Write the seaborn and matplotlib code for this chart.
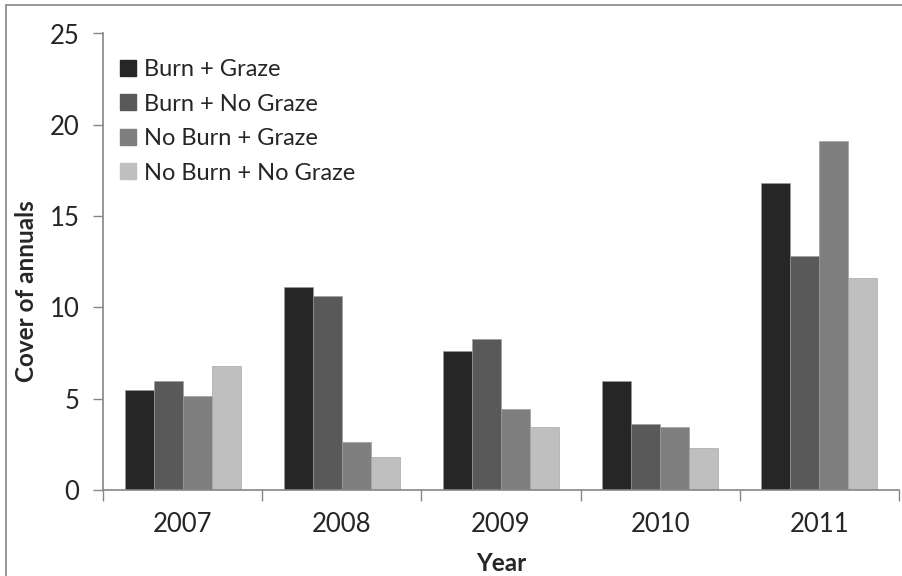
import matplotlib
matplotlib.use("Agg")
import matplotlib.pyplot as plt
from matplotlib.lines import Line2D
import seaborn as sns
import pandas as pd

years = ["2007", "2008", "2009", "2010", "2011"]
treatments = ["Burn + Graze", "Burn + No Graze", "No Burn + Graze", "No Burn + No Graze"]
burn_graze = [5.46, 11.13, 7.61, 5.97, 16.81]
burn_no_graze = [5.97, 10.64, 8.29, 3.61, 12.81]
no_burn_graze = [5.13, 2.63, 4.45, 3.47, 19.11]
no_burn_no_graze = [6.79, 1.79, 3.47, 2.30, 11.61]
colors = ["#262626", "#595959", "#7f7f7f", "#bfbfbf"]

series = [burn_graze, burn_no_graze, no_burn_graze, no_burn_no_graze]
df = pd.DataFrame(
    [(y, t, v) for t, vals in zip(treatments, series) for y, v in zip(years, vals)],
    columns=["Year", "Treatment", "Cover"],
)

sns.set_style("white")
plt.rcParams["font.family"] = ["Lato", "DejaVu Sans"]

fig = plt.figure(figsize=(9.02, 5.76), dpi=100)
ax = fig.add_axes([103 / 902, 86 / 576, 796 / 902, 456.5 / 576])

sns.barplot(
    data=df, x="Year", y="Cover", hue="Treatment",
    order=years, hue_order=treatments, palette=colors,
    width=0.729, gap=0, errorbar=None, ax=ax,
    edgecolor="#9a9a9a", linewidth=0.4,
)

ax.set_ylim(0, 25)
ax.set_xlim(-0.5, 4.5)
ax.set_yticks([0, 5, 10, 15, 20, 25])
ax.tick_params(axis="y", labelsize=18.5, length=7, width=1, color="#868686",
               direction="out", left=True, pad=10)

# tick marks between categories, labels at category centres
ax.set_xticks([i - 0.5 for i in range(len(years) + 1)])
ax.set_xticklabels([""] * (len(years) + 1))
ax.set_xticks(range(len(years)), minor=True)
ax.set_xticklabels(years, minor=True)
ax.tick_params(axis="x", which="major", length=8, width=1, color="#868686",
               direction="out", bottom=True)
ax.tick_params(axis="x", which="minor", length=0, labelsize=18.5, pad=16)

for side in ["top", "right"]:
    ax.spines[side].set_visible(False)
for side in ["left", "bottom"]:
    ax.spines[side].set_color("#868686")
    ax.spines[side].set_linewidth(1.2)

ax.set_xlabel("Year", fontsize=17.5, fontweight="bold")
ax.xaxis.set_label_coords(0.5, -0.16)
ax.xaxis.label.set_va("center")
ax.set_ylabel("Cover of annuals", fontsize=17.5, fontweight="bold")
ax.yaxis.set_label_coords(-0.0955, 0.435)
ax.yaxis.label.set_va("center")

handles = [Line2D([0], [0], marker="s", linestyle="none", markersize=11,
                  markerfacecolor=c, markeredgecolor=c) for c in colors]
ax.legend(handles, treatments, loc="upper left", bbox_to_anchor=(0.0, 0.98),
          frameon=False, fontsize=17, handlelength=0.7, handletextpad=0.35,
          labelspacing=0.57, borderaxespad=0.3)

# chart area border
fig.add_artist(Line2D([6 / 902, 6 / 902], [0, 1 - 5 / 576], transform=fig.transFigure,
                      color="#868686", linewidth=1.2))
fig.add_artist(Line2D([6 / 902, 1], [1 - 5 / 576, 1 - 5 / 576], transform=fig.transFigure,
                      color="#868686", linewidth=1.2))

fig.savefig("out.png", dpi=100)
